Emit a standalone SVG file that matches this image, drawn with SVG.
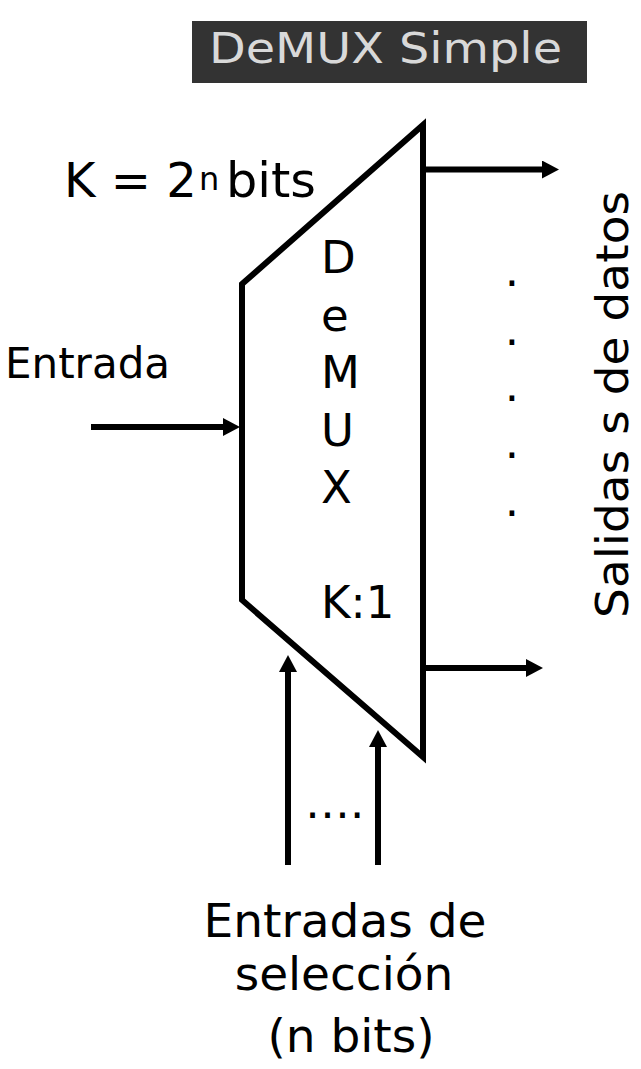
<svg xmlns="http://www.w3.org/2000/svg" width="641" height="1069" viewBox="0 0 641 1069">
  <style>
    .t { font-family: "DejaVu Sans", Verdana, sans-serif; fill: #000000; }
    .ln { stroke: #000000; stroke-width: 6; fill: none; }
  </style>
  <defs>
    <marker id="ah" viewBox="0 0 17 18" refX="5" refY="9" markerWidth="17" markerHeight="18" markerUnits="userSpaceOnUse" orient="auto">
      <path d="M0,0 L17,9 L0,18 z" fill="#000000"/>
    </marker>
  </defs>
  <rect width="641" height="1069" fill="#ffffff"/>

  <g id="title">
    <rect x="192" y="21" width="395" height="62" fill="#333333"/>
    <text class="t" x="209" y="63" font-size="42" style="fill:#d9d9d9" textLength="353" lengthAdjust="spacingAndGlyphs">DeMUX Simple</text>
  </g>

  <g id="demux">
    <polygon class="ln" points="242,284 423,125 423,757 242,600" stroke-linejoin="miter"/>
    <text class="t" x="321" y="273" font-size="45">D</text>
    <text class="t" x="321" y="331" font-size="45">e</text>
    <text class="t" x="321" y="388" font-size="45">M</text>
    <text class="t" x="321" y="446" font-size="45">U</text>
    <text class="t" x="321" y="503" font-size="45">X</text>
    <text class="t" x="321" y="618" font-size="45">K:1</text>
  </g>

  <g id="k-label">
    <text class="t" x="64" y="197" font-size="48">K = 2</text>
    <text class="t" x="199" y="190" font-size="32">n</text>
    <text class="t" x="226" y="197" font-size="48" textLength="90" lengthAdjust="spacingAndGlyphs">bits</text>
  </g>

  <g id="entrada">
    <text class="t" x="5" y="378" font-size="42">Entrada</text>
  </g>

  <g id="salidas">
    <text class="t" transform="translate(628,615) rotate(-90)" x="-3" y="0" font-size="44" textLength="427" lengthAdjust="spacingAndGlyphs">Salidas s de datos</text>
    <text class="t" x="512" y="286" font-size="45" text-anchor="middle">.</text>
    <text class="t" x="512" y="345" font-size="45" text-anchor="middle">.</text>
    <text class="t" x="512" y="401" font-size="45" text-anchor="middle">.</text>
    <text class="t" x="512" y="458" font-size="45" text-anchor="middle">.</text>
    <text class="t" x="512" y="516" font-size="45" text-anchor="middle">.</text>
  </g>

  <g id="seleccion">
    <text class="t" x="305" y="818" font-size="45">….</text>
    <text class="t" x="345" y="937" font-size="47" text-anchor="middle">Entradas de</text>
    <text class="t" x="344" y="990" font-size="47" text-anchor="middle">selección</text>
    <text class="t" x="351" y="1052" font-size="47" text-anchor="middle">(n bits)</text>
  </g>

  <g id="connectors">
    <line class="ln" x1="91" y1="427" x2="228" y2="427" marker-end="url(#ah)"/>
    <line class="ln" x1="423" y1="169.5" x2="547" y2="169.5" marker-end="url(#ah)"/>
    <line class="ln" x1="423" y1="668" x2="531" y2="668" marker-end="url(#ah)"/>
    <line class="ln" x1="288" y1="865" x2="288" y2="667" marker-end="url(#ah)"/>
    <line class="ln" x1="378" y1="865" x2="378" y2="742" marker-end="url(#ah)"/>
  </g>
</svg>
